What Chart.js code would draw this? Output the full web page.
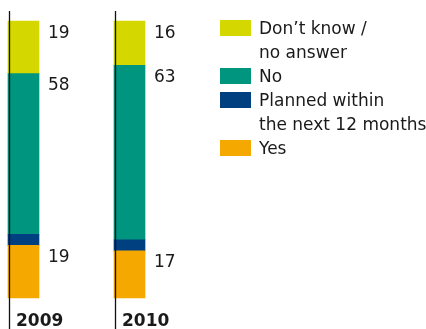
<!DOCTYPE html>
<html>
<head>
<meta charset="utf-8">
<script src="https://cdn.jsdelivr.net/npm/chart.js@4"></script>
<style>
  html, body { margin: 0; padding: 0; background: #fff; }
  #chart { display: block; }
</style>
</head>
<body>
<canvas id="chart" width="426" height="329"></canvas>
<script>
// survey answers per year, in percent
const years = ["2009", "2010"];
const yes = [19, 17];
const planned = [4, 4];
const no = [58, 63];
const dontKnow = [19, 16];

const seriesNames = ["Yes", "Planned within the next 12 months", "No", "Don’t know / no answer"];
const legendLines = [["Yes"], ["Planned within", "the next 12 months"], ["No"], ["Don’t know /", "no answer"]];
const colors = ["#f5a800", "#003f80", "#00957f", "#d4d800"];
const showValue = [true, false, true, true];

const FONT = "17px 'DejaVu Sans'";
const INK = "#1a1a1a";

// vertical rules, value labels, year labels and legend
const decorations = {
  id: "decorations",
  afterDatasetsDraw(chart) {
    const ctx = chart.ctx;
    ctx.save();
    ctx.fillStyle = INK;
    ctx.font = FONT;
    ctx.textBaseline = "alphabetic";

    chart.data.datasets.forEach((ds, i) => {
      if (!showValue[i]) return;
      chart.getDatasetMeta(i).data.forEach((bar, j) => {
        const right = bar.x + bar.width / 2;
        ctx.textAlign = "left";
        ctx.fillText(String(ds.data[j]), right + 9, bar.y + 16.5);
      });
    });

    // rule at the left edge of each bar plus the year underneath
    const first = chart.getDatasetMeta(0).data;
    first.forEach((bar, j) => {
      const left = bar.x - bar.width / 2;
      ctx.strokeStyle = "#111";
      ctx.lineWidth = 1.3;
      ctx.beginPath();
      ctx.moveTo(left + 1.5, 11);
      ctx.lineTo(left + 1.5, chart.height);
      ctx.stroke();
      ctx.font = "bold 17px 'DejaVu Sans'";
      ctx.fillText(chart.data.labels[j], left + 8, 326);
    });

    // legend, top series first
    ctx.font = FONT;
    let y = 20;
    for (let i = chart.data.datasets.length - 1; i >= 0; i--) {
      ctx.fillStyle = colors[i];
      ctx.fillRect(220, y, 31, 16);
      ctx.fillStyle = INK;
      legendLines[i].forEach((line, k) => {
        ctx.fillText(line, 259, y + 14 + k * 24);
      });
      y += 24 * legendLines[i].length;
    }
    ctx.restore();
  }
};

const seriesData = [yes, planned, no, dontKnow];

new Chart(document.getElementById("chart"), {
  type: "bar",
  data: {
    labels: years,
    datasets: seriesData.map((d, i) => ({
      label: seriesNames[i],
      data: d,
      backgroundColor: colors[i],
      borderWidth: 0,
      barThickness: 31,
      clip: false
    }))
  },
  options: {
    responsive: false,
    animation: false,
    layout: { padding: { left: 23.5, right: 296.5, top: 21, bottom: 31 } },
    plugins: { legend: { display: false }, tooltip: { enabled: false } },
    scales: {
      x: { stacked: true, offset: false, display: false },
      y: { stacked: true, min: 0, max: 100, display: false }
    }
  },
  plugins: [decorations]
});
</script>
</body>
</html>
